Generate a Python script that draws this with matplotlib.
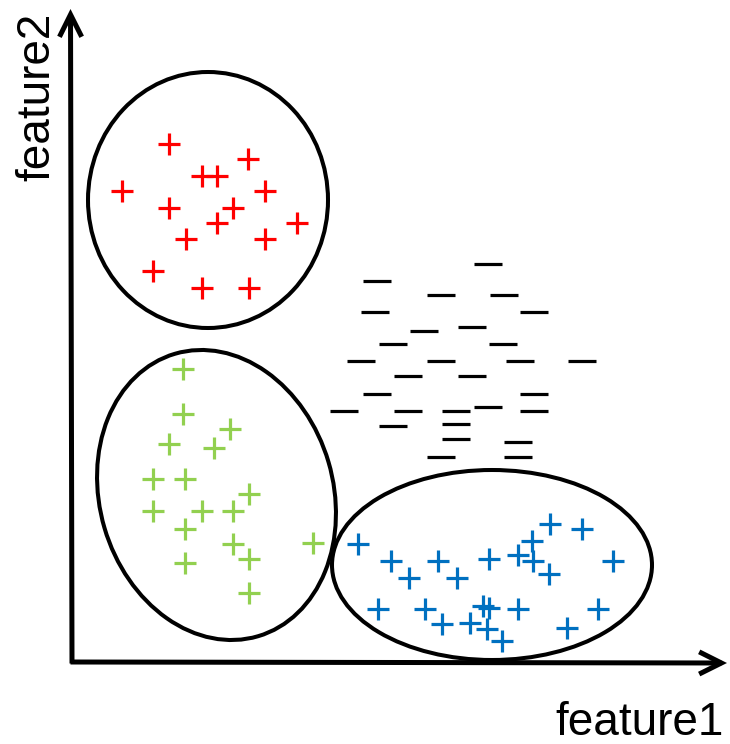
import matplotlib
matplotlib.use("Agg")
import matplotlib.pyplot as plt
from matplotlib.patches import Ellipse

# ---- data (feature1, feature2) ----
red_f1 = [97, 176, 130, 145, 50, 193, 97, 161, 145, 225, 114, 193, 81, 130, 177]
red_f2 = [518, 503, 486, 486, 471, 471, 454, 454, 439, 439, 423, 423, 391, 374, 374]

green_f1 = [111, 111, 158, 97, 142, 81, 113, 177, 81, 130, 161, 113, 241, 161, 177, 113, 177]
green_f2 = [293, 248, 233, 218, 214, 183, 183, 168, 151, 151, 151, 133, 119, 118, 103, 99, 69]

minus_f1 = [416, 305, 369, 432, 303, 462, 352, 400, 321, 431, 289, 369, 448, 510,
            336, 400, 305, 462, 272, 336, 384, 416, 462, 321, 384, 384, 446, 369, 446]
minus_f2 = [398, 381, 367, 367, 350, 350, 331, 335, 318, 318, 301, 301, 301, 301,
            286, 286, 268, 268, 251, 251, 251, 255, 251, 236, 238, 223, 220, 205, 205]

blue_f1 = [286, 478, 510, 460, 319, 366, 417, 446, 461, 541, 337, 385, 477,
           306, 353, 411, 417, 446, 526, 370, 398, 415, 495, 430]
blue_f2 = [118, 138, 133, 121, 101, 101, 103, 107, 101, 101, 84, 84, 88,
           53, 53, 56, 54, 53, 53, 38, 39, 33, 34, 21]

# cluster outlines: (center f1, center f2, width, height, angle)
clusters = [
    (136, 462, 240, 256, 0),
    (144.5, 167, 233.5, 294.4, 16.4),
    (420, 97, 320, 190, 0),
]

x_label = "feature1"
y_label = "feature2"

plt.rcParams['font.family'] = ['Liberation Sans', 'DejaVu Sans']

fig = plt.figure(figsize=(7.30, 7.44), dpi=100)
ax = fig.add_axes([0, 0, 1, 1])
ax.set_xlim(-72, 658)
ax.set_ylim(-82, 662)
ax.axis('off')

# axes with arrows
arrow_kw = dict(arrowstyle='->,head_length=1.6,head_width=0.8', lw=3.6,
                color='black', shrinkA=0, shrinkB=0, mutation_scale=10,
                capstyle='butt', joinstyle='miter')
ax.annotate('', xy=(-1.5, 653), xytext=(0, -1.5), arrowprops=arrow_kw)
ax.annotate('', xy=(655, -1), xytext=(-1.5, 0), arrowprops=arrow_kw)

for cx, cy, w, h, ang in clusters:
    ax.add_patch(Ellipse((cx, cy), w, h, angle=ang, fill=False,
                         edgecolor='black', lw=2.9))

ax.plot(red_f1, red_f2, linestyle='none', marker='+', ms=16, mew=2.3, color='#FF0000')
ax.plot(green_f1, green_f2, linestyle='none', marker='+', ms=16, mew=2.3, color='#92D050')
ax.plot(blue_f1, blue_f2, linestyle='none', marker='+', ms=16, mew=2.3, color='#0070C0')
ax.plot(minus_f1, minus_f2, linestyle='none', marker='_', ms=20, mew=2.3, color='black')

ax.text(483, -73, x_label, fontsize=33, ha='left', va='baseline', color='black')
ax.text(-35, 565, y_label, fontsize=33, rotation=90, ha='center', va='center', color='black')

fig.savefig('out.png', dpi=100)
